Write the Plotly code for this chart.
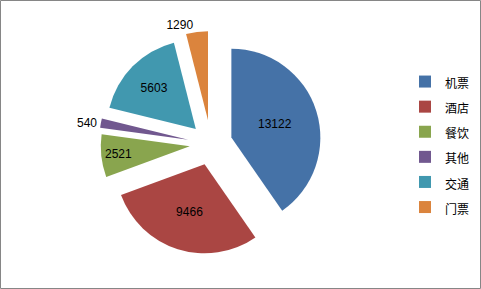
import plotly.graph_objects as go

categories = ["机票", "酒店", "餐饮", "其他", "交通", "门票"]
values = [13122, 9466, 2521, 540, 5603, 1290]
colors = ["#4572A7", "#AA4643", "#89A54E", "#71588F", "#4198AF", "#DB843D"]
pulls = [0.24, 0.24, 0.24, 0.26, 0.24, 0.27]
text_pos = ["inside", "inside", "inside", "outside", "inside", "outside"]

W, H = 481, 289
cx, cy, half = 211, 144, 113

legend_labels = [f"<span style='font-size:12px'>{c}</span>" for c in categories]

fig = go.Figure(go.Pie(
    labels=legend_labels,
    values=values,
    sort=False,
    direction="clockwise",
    rotation=0,
    pull=pulls,
    marker=dict(colors=colors, line=dict(width=0)),
    texttemplate="%{value:d}",
    textposition=text_pos,
    insidetextorientation="horizontal",
    textfont=dict(family="Liberation Sans, Arial", size=12, color="black"),
    domain=dict(x=[(cx - half) / W, (cx + half) / W],
                y=[1 - (cy + half) / H, 1 - (cy - half) / H]),
    hoverinfo="label+value",
))

fig.update_layout(
    width=W, height=H,
    margin=dict(l=0, r=0, t=0, b=0, autoexpand=False),
    paper_bgcolor="white",
    plot_bgcolor="white",
    uniformtext=dict(minsize=12, mode="show"),
    legend=dict(
        x=0.842, y=0.5, xanchor="left", yanchor="middle",
        bgcolor="rgba(0,0,0,0)",
        font=dict(family="Noto Sans CJK SC", size=17, color="black"),
        itemwidth=30,
    ),
    shapes=[dict(type="rect", xref="paper", yref="paper",
                 x0=0.5 / W, x1=(W - 0.5) / W, y0=0.5 / H, y1=(H - 0.5) / H,
                 line=dict(color="#868686", width=1))],
)

fig.write_html("out.html")
